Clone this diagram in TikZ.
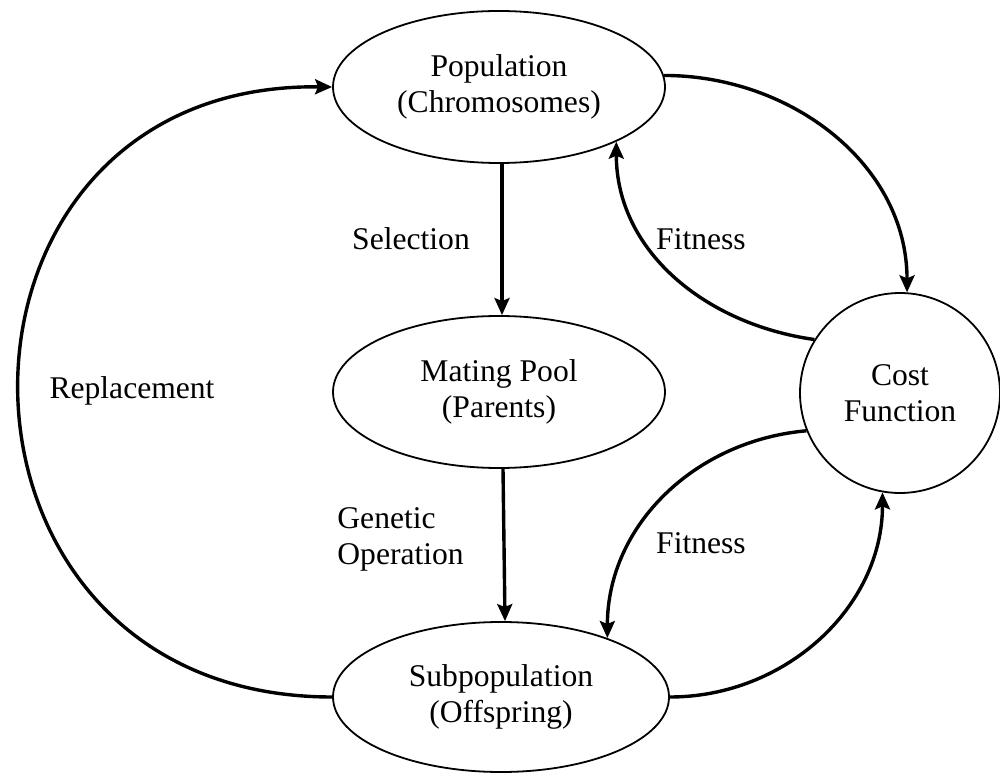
\documentclass[tikz,border=0pt]{standalone}
\usepackage{fontspec}
\setmainfont{Liberation Serif}
\usetikzlibrary{arrows.meta,shapes.geometric}
\begin{document}
\begin{tikzpicture}[x=0.5pt,y=-0.5pt,
  every node/.style={font=\fontsize{15.8}{18}\selectfont, align=center, inner sep=0pt},
  oval/.style={draw, ellipse, line width=0.9pt, minimum width=166pt, minimum height=76pt},
  circ/.style={draw, circle, line width=0.9pt, minimum size=100pt},
  arr/.style={line width=1.7pt, -{Stealth[length=8.5pt,width=7.5pt,inset=1.5pt]}},
  lbl/.style={}]
\path[use as bounding box] (0,0) rectangle (1000,774);
\node[oval] (pop) at (499,87) {Population\\(Chromosomes)};
\node[oval] (mate) at (499,392) {Mating Pool\\(Parents)};
\node[oval, minimum width=168pt, minimum height=75pt] (sub) at (501,697) {Subpopulation\\(Offspring)};
\node[circ] (cost) at (900,393) {Cost\\Function};
\node[lbl] (sel) at (411,239) {Selection};
\node[lbl, align=left, anchor=west] (gen) at (337,539) {Genetic\\Operation};
\node[lbl] (fit1) at (701,239) {Fitness};
\node[lbl] (fit2) at (701,543) {Fitness};
\node[lbl] (rep) at (132,391) {Replacement};
\draw[arr] ([xshift=1.5pt]pop.south) -- ([xshift=1.5pt]mate.north);
\draw[arr] ([xshift=2pt]mate.south) -- ([xshift=2pt]sub.north);
\draw[arr] (pop.4) to[out=0,in=90] (cost.86);
\draw[arr] (cost.148) to[out=172,in=-90] (pop.-25);
\draw[arr] (cost.-158) to[out=185,in=90] (sub.29);
\draw[arr] (sub.east) to[out=0,in=-90] (cost.-100);
\draw[arr] (sub.west) .. controls (-85,697) and (-85,82) .. (pop.west);
\end{tikzpicture}
\end{document}
